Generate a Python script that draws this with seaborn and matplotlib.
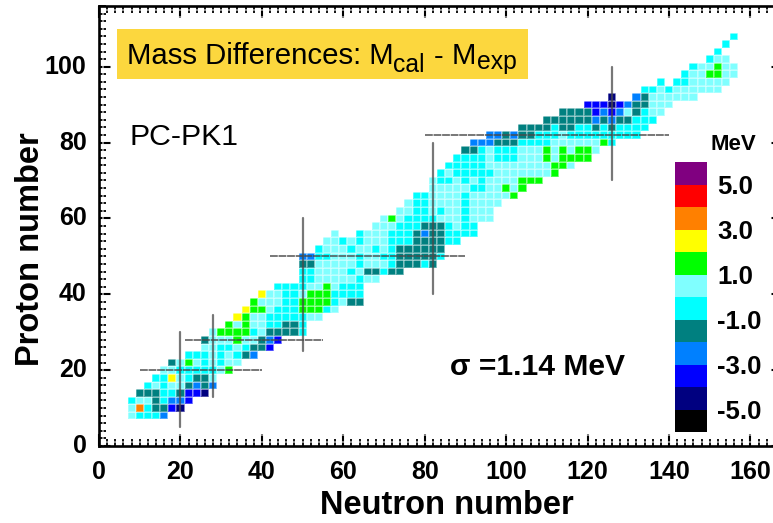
import numpy as np
import pandas as pd
import seaborn as sns
from matplotlib import pyplot as plt
from matplotlib.colors import ListedColormap
from matplotlib.patches import Rectangle

sns.set_style('white')
plt.rcParams['font.family'] = ['Liberation Sans', 'DejaVu Sans']
plt.rcParams['text.color'] = 'black'
plt.rcParams['axes.labelcolor'] = 'black'
plt.rcParams['xtick.color'] = 'black'
plt.rcParams['ytick.color'] = 'black'

W, H = 773, 523

# one entry per proton row: first neutron number, then one letter per even N
proton_rows = list(range(8, 110, 2))
first_neutron = [8, 8, 8, 10, 12, 14, 16, 18, 22, 26, 26, 28, 32, 34, 36, 38, 40, 44, 50, 50, 50, 50, 54,
                 56, 58, 68, 70, 74, 76, 78, 82, 82, 84, 86, 88, 90, 92, 96, 104, 110, 114, 120, 126,
                 134, 138, 144, 146, 150, 152, 154, 156]
row_bins = ['lcccb', 'locttBn', 'clltcbbB', 'tttcctBBn', 'clclltbtb', 'ccylcttl', 'llccccclg', 'tlglclcll',
            'ccclclctb', 'llcclcttB', 'tlllglltbB', 'lggggclttttc', 'glgllccttc', 'ygllcccccll',
            'ygglcccgggcl', 'glllccggggcltt', 'yllcclgggcccc', 'ccccllglccc', 'cclllllcll',
            'ccllllclttctt', 'ttlllllclllctttct', 'bbcclllcllcctttttc', 'clllcllclctttttt',
            'llclclllcccttttcc', 'l..clllccctbttcccc', 'lllccctttclcc', 'lglcccclllclll',
            'llcclcllclll', 'lccllllcllll', 'ccllllclllllg', 'lllllccllglg', 'lcclclcllllggg',
            'clccccclllllllg', 'cccccllllllllggl', 'cccclccclllglgggg', 'ttclccclllglglggl',
            'bbbtttccccllllllgc', 'bbtbttccclccccccccc', 'ttttcttcctctcccc', 'ttttttbtbttccc',
            'ttttBbBbltcll', 'BBBnBbttlll', 'n..btllllll', 'cclcllllll', 'c.cclllll', 'cllggll',
            'cllgll', 'cll', 'c', 'c', 'c']
# MeV at the middle of each colour bin
bin_mev = {'n': -4.5, 'B': -3.5, 'b': -2.5, 't': -1.5, 'c': -0.5, 'l': 0.5, 'g': 1.5, 'y': 2.5, 'o': 3.5}

bar_values = [5.5, 4.5, 3.5, 2.5, 1.5, 0.5, -0.5, -1.5, -2.5, -3.5, -4.5, -5.5]
bar_labels = ['5.0', '3.0', '1.0', '-1.0', '-3.0', '-5.0']
bar_colors = ['#000000', '#000080', '#0000FF', '#0080FF', '#008080', '#00FFFF',
              '#80FFFF', '#00FF00', '#FFFF00', '#FF8000', '#FF0000', '#800080']

# shell closures: position, start, end
magic_n = [20, 28, 50, 82, 126]
magic_n_from = [5, 13, 25, 40, 70]
magic_n_to = [30, 34.5, 60, 80, 100]
magic_z = [20, 28, 50, 82]
magic_z_from = [10, 21, 42, 80]
magic_z_to = [40, 55, 90, 140]

n_columns = np.arange(0, 168, 2)
z_index = np.arange(0, 118, 2)
grid = pd.DataFrame(np.nan, index=z_index, columns=n_columns)
for z, n0, codes in zip(proton_rows, first_neutron, row_bins):
    for i, code in enumerate(codes):
        if code in bin_mev:
            grid.loc[z, n0 + 2 * i] = bin_mev[code]


def pos(v):
    # heatmap cell centre for an even N or Z
    return np.asarray(v) / 2 + 0.5


cmap = ListedColormap(bar_colors)
fig = plt.figure(figsize=(W / 100, H / 100), dpi=100)
ax = fig.add_axes([99 / W, (H - 446) / H, 684 / W, 440 / H])
sns.heatmap(grid, ax=ax, cmap=cmap, vmin=-6, vmax=6, cbar=False, linewidths=0.3, linecolor=(1, 1, 1, 0.3))
ax.set_xlim(pos(0), pos(168))
ax.set_ylim(pos(0), pos(116))

for n, a, b in zip(magic_n, magic_n_from, magic_n_to):
    ax.plot([pos(n), pos(n)], [pos(a), pos(b)], color='#4a4a4a', lw=1.6, alpha=0.75)
for z, a, b in zip(magic_z, magic_z_from, magic_z_to):
    ax.plot([pos(a), pos(b)], [pos(z), pos(z)], color='#4a4a4a', lw=1.4, alpha=0.75, ls=(0, (4, 0.4)))

x_major = np.arange(0, 180, 20)
y_major = np.arange(0, 120, 20)
ax.set_xticks(pos(x_major))
ax.set_xticklabels(x_major, rotation=0)
ax.set_yticks(pos(y_major))
ax.set_yticklabels(y_major, rotation=0)
ax.set_xticks(pos(np.arange(0, 170, 2)), minor=True)
ax.set_yticks(pos(np.arange(0, 118, 2)), minor=True)
ax.tick_params(which='major', direction='in', length=8.6, width=1.5, top=True, right=True, bottom=True, left=True)
ax.tick_params(which='minor', direction='in', length=4.7, width=1.3, top=True, right=True, bottom=True, left=True)
ax.tick_params(axis='x', which='major', pad=10, labelsize=18)
ax.tick_params(axis='y', which='major', pad=9, labelsize=18)
for lab in ax.get_xticklabels() + ax.get_yticklabels():
    lab.set_fontweight('bold')
for sp in ax.spines.values():
    sp.set_visible(True)
    sp.set_linewidth(1.9)
    sp.set_color('black')

ax.set_xlabel('Neutron number', fontsize=23.5, fontweight='bold', va='center')
ax.set_ylabel('Proton number', fontsize=23.5, fontweight='bold', va='center')
ax.xaxis.set_label_coords((447 - 99) / 684, (446 - 506) / 440)
ax.yaxis.set_label_coords((30 - 99) / 684, (446 - 249) / 440)

fig.add_artist(Rectangle((117 / W, 1 - 79 / H), 411 / W, 50 / H, transform=fig.transFigure,
                         facecolor='#FCD73E', edgecolor='none'))
fig.text(127 / W, 1 - 64.5 / H, 'Mass Differences: M', fontsize=21.2, va='baseline')
fig.text(393 / W, 1 - 72 / H, 'cal', fontsize=17.8, va='baseline')
fig.text(434 / W, 1 - 64.5 / H, '-', fontsize=21.2, va='baseline')
fig.text(452 / W, 1 - 64.5 / H, 'M', fontsize=21.2, va='baseline')
fig.text(477 / W, 1 - 69 / H, 'exp', fontsize=17.8, va='baseline')
fig.text(130 / W, 1 - 137 / H, 'PC-PK1', fontsize=21.8, va='center')
fig.text(450 / W, 1 - 367 / H, '\u03c3 =1.14 MeV', fontsize=21.6, fontweight='bold', va='center')
fig.text(733 / W, 1 - 145 / H, 'MeV', fontsize=16, fontweight='bold', va='center', ha='center')

# colour key, drawn as a one column heatmap
cax = fig.add_axes([675 / W, (H - 432) / H, 32 / W, 270 / H])
sns.heatmap(pd.DataFrame({'MeV': bar_values}), ax=cax, cmap=cmap, vmin=-6, vmax=6, cbar=False,
            xticklabels=False)
cax.yaxis.tick_right()
cax.set_yticks(np.arange(1, 12, 2))
cax.set_yticklabels(bar_labels, rotation=0, fontsize=18.5, fontweight='bold')
cax.tick_params(axis='y', length=0, pad=7.5)

fig.savefig('out.png', dpi=100)
